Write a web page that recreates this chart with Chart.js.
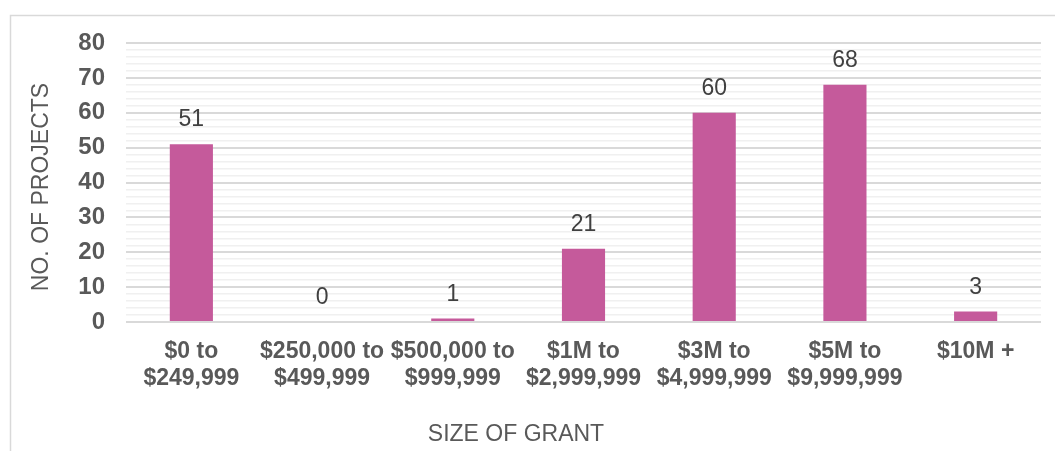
<!DOCTYPE html>
<html>
<head>
<meta charset="utf-8">
<script src="https://cdn.jsdelivr.net/npm/chart.js@4.4.1/dist/chart.umd.min.js"></script>
<style>
  html, body { margin: 0; padding: 0; background: #fff; }
  #wrap { position: relative; width: 1055px; height: 451px; }
</style>
</head>
<body>
<div id="wrap"><canvas id="grant-chart"></canvas></div>
<script>
const categories = [
  ['$0 to', '$249,999'],
  ['$250,000 to', '$499,999'],
  ['$500,000 to', '$999,999'],
  ['$1M to', '$2,999,999'],
  ['$3M to', '$4,999,999'],
  ['$5M to', '$9,999,999'],
  ['$10M +']
];
const projects = [51, 0, 1, 21, 60, 68, 3];
const yMin = 0;
const yMax = 80;
const xTitle = 'SIZE OF GRANT';
const yTitle = 'NO. OF PROJECTS';

const FONT = "'Liberation Sans', Arial, sans-serif";

// light frame round the chart plus the two axis titles
const framePlugin = {
  id: 'frame',
  beforeDraw(chart) {
    const ctx = chart.ctx;
    ctx.save();
    ctx.strokeStyle = '#d9d9d9';
    ctx.lineWidth = 1.5;
    ctx.strokeRect(10.5, 15.5, 1200, 600);
    ctx.restore();
  },
  afterDraw(chart) {
    const ctx = chart.ctx;
    ctx.save();
    ctx.font = '23px ' + FONT;
    ctx.fillStyle = '#595959';
    ctx.textAlign = 'center';
    ctx.textBaseline = 'middle';
    ctx.fillText(xTitle, 516, 435);
    ctx.translate(42, 187);
    ctx.rotate(-Math.PI / 2);
    ctx.fillText(yTitle, 0, 0);
    ctx.restore();
  }
};

// value over each bar
const valueLabels = {
  id: 'valueLabels',
  afterDatasetsDraw(chart) {
    const ctx = chart.ctx;
    const meta = chart.getDatasetMeta(0);
    ctx.save();
    ctx.font = '23px ' + FONT;
    ctx.fillStyle = '#404040';
    ctx.textAlign = 'center';
    ctx.textBaseline = 'middle';
    meta.data.forEach((bar, i) => {
      ctx.fillText(String(projects[i]), bar.x, bar.y - 24);
    });
    ctx.restore();
  }
};

new Chart(document.getElementById('grant-chart'), {
  type: 'bar',
  data: {
    labels: categories,
    datasets: [{
      label: 'No. of projects',
      data: projects,
      backgroundColor: '#c55a9b',
      barPercentage: 0.66,
      categoryPercentage: 0.5
    }]
  },
  options: {
    responsive: true,
    maintainAspectRatio: false,
    animation: false,
    layout: { padding: { top: 43, right: 14, bottom: 0, left: 0 } },
    plugins: {
      legend: { display: false },
      tooltip: { enabled: false }
    },
    scales: {
      x: {
        grid: { display: false, drawTicks: false },
        border: { display: false },
        ticks: {
          color: '#595959',
          font: { family: FONT, size: 23, weight: 'bold', lineHeight: 1.17 },
          padding: 16,
          maxRotation: 0,
          autoSkip: false
        },
        afterFit(scale) { scale.height = 129; }
      },
      y: {
        min: yMin,
        max: yMax,
        grid: {
          drawTicks: false,
          color: c => (c.tick && c.tick.value % 10 === 0) ? '#d9d9d9' : '#f0f0f0',
          lineWidth: c => (c.tick && c.tick.value % 10 === 0) ? 2 : 1.5
        },
        border: { display: false },
        ticks: {
          stepSize: 2,
          autoSkip: false,
          color: '#595959',
          font: { family: FONT, size: 24, weight: 'bold' },
          padding: 21,
          callback: v => (v % 10 === 0 ? v : '')
        },
        afterFit(scale) { scale.width = 126; }
      }
    }
  },
  plugins: [framePlugin, valueLabels]
});
</script>
</body>
</html>
